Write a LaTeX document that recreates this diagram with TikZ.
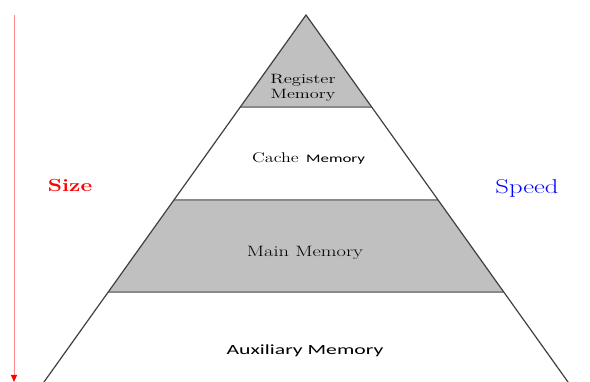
\documentclass[tikz,border=0pt]{standalone}
\usepackage{fontspec}
\newfontfamily\calib{Carlito}
\usetikzlibrary{arrows.meta}
\definecolor{bandgray}{HTML}{C0C0C0}
\definecolor{edgegray}{HTML}{404040}
\definecolor{sepgray}{HTML}{8A8A8A}
\definecolor{txt}{HTML}{000000}
\definecolor{arrowred}{HTML}{FF8C8C}
\newcommand{\wide}[2]{\scalebox{#1}[1]{#2}}
\tikzset{
  band/.style={fill=bandgray, draw=none},
  sep/.style={draw=sepgray, line width=1.3pt},
  edge/.style={draw=edgegray, line width=1.2pt},
  lbl/.style={inner sep=0pt, text=txt},
}
\begin{document}
\begin{tikzpicture}[x=1pt,y=-1pt]
\useasboundingbox (0,0) rectangle (590,382);
\begin{scope}
\clip (0,0) rectangle (590,382);
\coordinate (apex) at (306,15);
\coordinate (l1) at (240.3,107); \coordinate (r1) at (371.7,107);
\coordinate (l2) at (173.9,200); \coordinate (r2) at (438.1,200);
\coordinate (l3) at (108.2,292); \coordinate (r3) at (503.8,292);
\coordinate (l4) at (39,389); \coordinate (r4) at (573,389);
\path[band] (apex) -- (r1) -- (l1) -- cycle;
\path[band] (l2) -- (r2) -- (r3) -- (l3) -- cycle;
\draw[sep] (l1) -- (r1);
\draw[sep] (l2) -- (r2);
\draw[sep] (l3) -- (r3);
\draw[edge] (l4) -- (apex) -- (r4);
\end{scope}
% labels
\node[lbl, font={\rmfamily\fontsize{13.5}{14}\selectfont}] (reg) at (303,80) {\wide{1.38}{Register}};
\node[lbl, font={\rmfamily\fontsize{13.5}{14}\selectfont}] (regm) at (303,95) {\wide{1.36}{Memory}};
\node[lbl, font={\rmfamily\fontsize{14}{16}\selectfont}, anchor=east] (cache) at (299,158) {\wide{1.29}{Cache}};
\node[lbl, font={\calib\fontsize{11.5}{13}\selectfont}, anchor=west] (cachem) at (306,159.5) {\wide{1.47}{Memory}};
\node[lbl, font={\rmfamily\fontsize{15}{17}\selectfont}] (main) at (305,253) {\wide{1.36}{Main Memory}};
\node[lbl, font={\calib\fontsize{14}{16}\selectfont}] (aux) at (305,351) {\wide{1.55}{Auxiliary Memory}};
\node[lbl, text=red, font={\rmfamily\fontsize{17.5}{19}\selectfont\bfseries}] (size) at (70,185) {\wide{1.3}{Size}};
\node[lbl, text=blue, font={\rmfamily\fontsize{20}{22}\selectfont}] (speed) at (527,188) {\wide{1.33}{Speed}};
% arrow
\coordinate (atop) at (14,15);
\coordinate (abot) at (14,382);
\draw[arrowred, line width=1pt, -{Triangle[length=7pt,width=6pt,color=red]}] (atop) -- (abot);
\end{tikzpicture}
\end{document}
